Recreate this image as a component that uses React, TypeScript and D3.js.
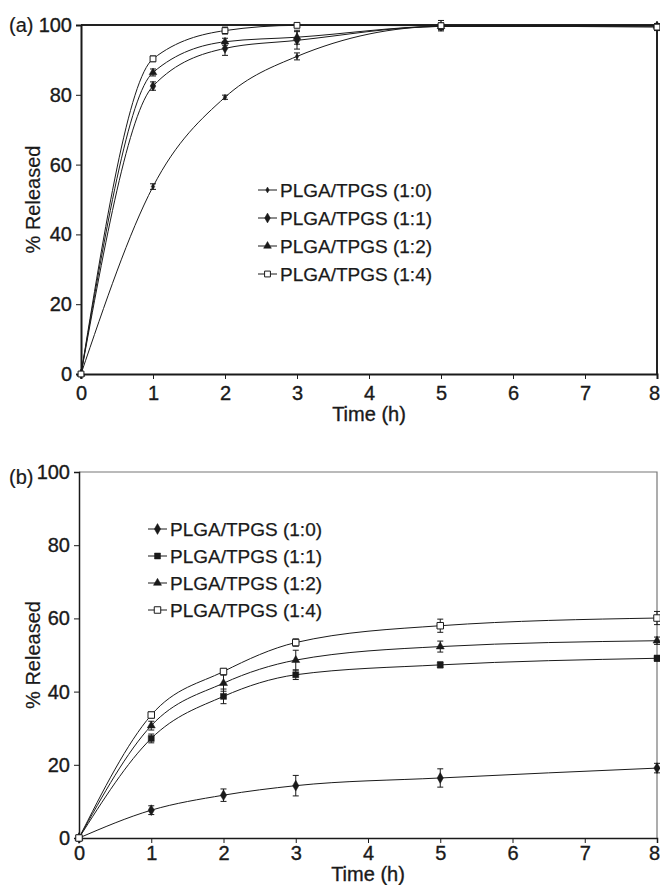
import React, { useRef, useEffect } from 'react';
import * as d3 from 'd3';

const times = [0, 1, 2, 3, 5, 8];
const seriesNames = ['PLGA/TPGS (1:0)', 'PLGA/TPGS (1:1)', 'PLGA/TPGS (1:2)', 'PLGA/TPGS (1:4)'];
const yTicks = [0, 20, 40, 60, 80, 100];
const xTicks = [0, 1, 2, 3, 4, 5, 6, 7, 8];

// panel (a) - % released
const relA10 = [0, 53.7, 79.3, 91.0, 99.6, 99.8];
const relA11 = [0, 82.5, 93.3, 95.6, 99.6, 99.7];
const relA12 = [0, 86.4, 95.2, 96.5, 99.6, 99.7];
const relA14 = [0, 90.3, 98.4, 99.9, 99.8, 99.4];
const errA10 = [0, 0.8, 0.6, 1.0, 1.0, 0.4];
const errA11 = [0, 1.2, 2.0, 2.5, 0.8, 0.5];
const errA12 = [0, 1.0, 1.0, 2.0, 0.8, 0.5];
const errA14 = [0, 0.8, 1.0, 0.4, 1.5, 1.0];

// panel (b)
const relB10 = [0, 7.6, 11.7, 14.3, 16.4, 19.1];
const relB11 = [0, 27.2, 38.7, 44.6, 47.3, 49.1];
const relB12 = [0, 30.7, 42.3, 48.6, 52.3, 53.9];
const relB14 = [0, 33.6, 45.5, 53.4, 58.0, 60.1];
const errB10 = [0, 1.2, 1.7, 2.8, 2.5, 1.3];
const errB11 = [0, 1.2, 2.0, 1.3, 0.8, 0.8];
const errB12 = [0, 1.2, 2.2, 2.7, 1.5, 1.0];
const errB14 = [0, 0.8, 0.8, 1.0, 1.8, 1.8];

const font = 'Liberation Sans, Arial, sans-serif';
const ink = '#1a1a1a';

const panels = [
  {
    tag: '(a)', tagY: 32,
    left: 81, right: 657, top: 25, bottom: 374,
    values: [relA10, relA11, relA12, relA14],
    errors: [errA10, errA11, errA12, errA14],
    marks: [
      { type: d3.symbolDiamond, size: 10, open: false },
      { type: d3.symbolDiamond, size: 28, open: false },
      { type: d3.symbolTriangle, size: 26, open: false },
      { type: d3.symbolSquare, size: 34, open: true },
    ],
    axisWidth: 2, frameColor: '#222', frameWidth: 2,
    legendX: 258, legendTop: 190, legendStep: 28,
    xPad: 7, xLabelY: 421,
  },
  {
    tag: '(b)', tagY: 484,
    left: 79, right: 657, top: 472, bottom: 838,
    values: [relB10, relB11, relB12, relB14],
    errors: [errB10, errB11, errB12, errB14],
    marks: [
      { type: d3.symbolDiamond, size: 34, open: false },
      { type: d3.symbolSquare, size: 36, open: false },
      { type: d3.symbolTriangle, size: 28, open: false },
      { type: d3.symbolSquare, size: 42, open: true },
    ],
    axisWidth: 1.5, frameColor: '#777', frameWidth: 1.2,
    legendX: 148, legendTop: 529, legendStep: 27,
    xPad: 3, xLabelY: 881,
  },
];

// slightly heavier text, like the scanned figure
const styleText = sel => sel
  .attr('fill', ink)
  .attr('stroke', ink)
  .attr('stroke-width', 0.35)
  .style('font-family', font);

const App = () => {
  const svgRef = useRef(null);

  useEffect(() => {
    const svg = d3.select(svgRef.current);
    svg.selectAll('*').remove();

    panels.forEach(p => {
      const g = svg.append('g');
      const x = d3.scaleLinear().domain([0, 8]).range([p.left, p.right]);
      const y = d3.scaleLinear().domain([0, 100]).range([p.bottom, p.top]);

      // frame (top / right)
      g.append('path')
        .attr('d', `M${x(0)},${y(100)}H${x(8)}V${y(0)}`)
        .attr('fill', 'none')
        .attr('stroke', p.frameColor)
        .attr('stroke-width', p.frameWidth);

      const yAxis = g.append('g').attr('transform', `translate(${x(0)},0)`)
        .call(d3.axisLeft(y).tickValues(yTicks).tickSize(5).tickPadding(4));
      const xAxis = g.append('g').attr('transform', `translate(0,${y(0)})`)
        .call(d3.axisBottom(x).tickValues(xTicks).tickSize(5).tickPadding(p.xPad));

      [yAxis, xAxis].forEach(a => {
        a.select('.domain').attr('stroke', ink).attr('stroke-width', p.axisWidth);
        a.selectAll('.tick line').attr('stroke', ink).attr('stroke-width', 1);
        a.selectAll('.tick text')
          .call(styleText)
          .style('font-size', '20px');
      });
      // last label sits at the page edge; nudge it in
      xAxis.selectAll('.tick text').filter(d => d === 8).attr('dx', -3);

      // axis titles
      g.append('text')
        .attr('x', (x(0) + x(8)) / 2)
        .attr('y', p.xLabelY)
        .attr('text-anchor', 'middle')
        .call(styleText)
        .style('font-size', '20px')
        .text('Time (h)');
      g.append('text')
        .attr('transform', `translate(40,${(y(0) + y(100)) / 2}) rotate(-90)`)
        .attr('text-anchor', 'middle')
        .call(styleText)
        .attr('stroke-width', 0.2)
        .style('font-size', '20px')
        .text('% Released');
      g.append('text')
        .attr('x', 9)
        .attr('y', p.tagY)
        .call(styleText)
        .attr('stroke-width', 0.2)
        .style('font-size', '20px')
        .text(p.tag);

      const line = d3.line()
        .x((d, i) => x(times[i]))
        .y(d => y(d))
        .curve(d3.curveMonotoneX);

      p.values.forEach((vals, s) => {
        g.append('path')
          .attr('d', line(vals))
          .attr('fill', 'none')
          .attr('stroke', ink)
          .attr('stroke-width', 1);

        // error bars
        vals.forEach((v, i) => {
          const e = p.errors[s][i];
          if (!e) return;
          const cx = x(times[i]);
          g.append('path')
            .attr('d', `M${cx},${y(v - e)}V${y(v + e)}M${cx - 3},${y(v - e)}h6M${cx - 3},${y(v + e)}h6`)
            .attr('fill', 'none')
            .attr('stroke', ink)
            .attr('stroke-width', 1);
        });

        const m = p.marks[s];
        const sym = d3.symbol().type(m.type).size(m.size);
        g.selectAll(null)
          .data(vals)
          .enter()
          .append('path')
          .attr('d', sym)
          .attr('transform', (d, i) => `translate(${x(times[i])},${y(d)})`)
          .attr('fill', m.open ? '#fff' : ink)
          .attr('stroke', ink)
          .attr('stroke-width', m.open ? 1 : 0.5);

        // legend
        const ly = p.legendTop + s * p.legendStep;
        g.append('line')
          .attr('x1', p.legendX).attr('x2', p.legendX + 19)
          .attr('y1', ly).attr('y2', ly)
          .attr('stroke', ink).attr('stroke-width', 1);
        g.append('path')
          .attr('d', sym)
          .attr('transform', `translate(${p.legendX + 9.5},${ly})`)
          .attr('fill', m.open ? '#fff' : ink)
          .attr('stroke', ink)
          .attr('stroke-width', m.open ? 1 : 0.5);
        g.append('text')
          .attr('x', p.legendX + 22)
          .attr('y', ly + 7)
          .call(styleText)
          .attr('stroke-width', 0.25)
          .style('font-size', '19px')
          .text(seriesNames[s]);
      });
    });
  }, []);

  return (
    <svg ref={svgRef} width={660} height={885}
      style={{ position: 'absolute', left: 0, top: 0, background: '#fff' }} />
  );
};

export default App;
